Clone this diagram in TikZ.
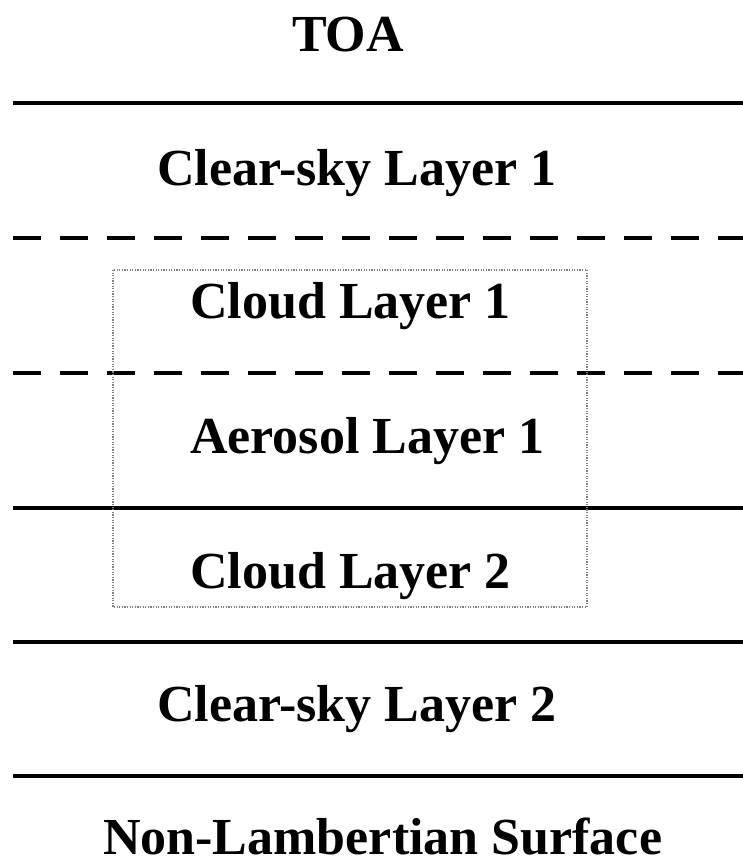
\documentclass[tikz,border=0pt]{standalone}
\usepackage{fontspec}
\setmainfont{Liberation Serif}
\begin{document}
\begin{tikzpicture}[x=1bp,y=-1bp,
  lbl/.style={anchor=base west,inner sep=0pt,font=\fontsize{52bp}{60bp}\selectfont\bfseries},
  solidline/.style={line width=4.5bp},
  dashline/.style={line width=4bp,dash pattern=on 28bp off 19bp},
  dotbox/.style={draw=gray,line width=2.2bp,dash pattern=on 1.2bp off 1.4bp}]
\useasboundingbox (0,0) rectangle (743,861);
\coordinate (l1a) at (13,103); \coordinate (l1b) at (743,103);
\coordinate (l2a) at (13,238); \coordinate (l2b) at (743,238);
\coordinate (l3a) at (13,373); \coordinate (l3b) at (743,373);
\coordinate (l4a) at (13,508); \coordinate (l4b) at (743,508);
\coordinate (l5a) at (13,642); \coordinate (l5b) at (743,642);
\coordinate (l6a) at (13,776); \coordinate (l6b) at (743,776);
\draw[solidline] (l1a) -- (l1b);
\draw[dashline] (l2a) -- (l2b);
\draw[dashline] (l3a) -- (l3b);
\draw[solidline] (l4a) -- (l4b);
\draw[solidline] (l5a) -- (l5b);
\draw[solidline] (l6a) -- (l6b);
\coordinate (b1) at (113,270); \coordinate (b2) at (587,607);
\draw[dotbox] (b1) rectangle (b2);
\node[lbl] (toa) at (292,51) {TOA};
\node[lbl] (cs1) at (157,185) {Clear-sky Layer 1};
\node[lbl] (cl1) at (190,318) {Cloud Layer 1};
\node[lbl] (ae1) at (190,453) {Aerosol Layer 1};
\node[lbl] (cl2) at (190,588) {Cloud Layer 2};
\node[lbl] (cs2) at (157,721) {Clear-sky Layer 2};
\node[lbl] (sur) at (103,854) {Non-Lambertian Surface};
\end{tikzpicture}
\end{document}
